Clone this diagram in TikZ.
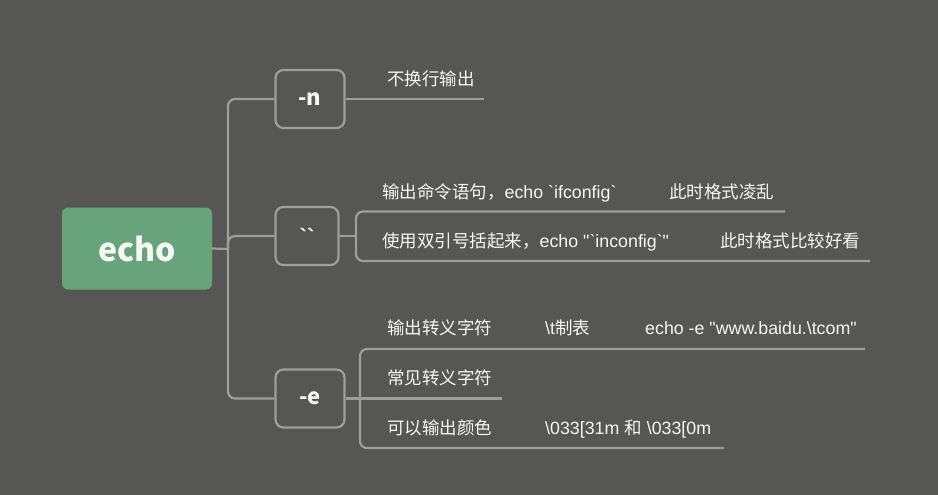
\documentclass[tikz,border=0pt]{standalone}
\usepackage{fontspec}
\newfontfamily\cjk{Noto Sans CJK SC}
\newfontfamily\lat{Liberation Sans}
\newcommand{\lt}[1]{{\lat\fontsize{17.8}{20}\selectfont #1}}
\definecolor{bgc}{RGB}{86,87,84}
\definecolor{rootc}{RGB}{103,164,124}
\definecolor{linec}{RGB}{158,159,156}
\definecolor{txtc}{RGB}{246,246,244}
\tikzset{
  conn/.style={draw=linec,line width=2.2pt,rounded corners=7pt},
  rootbox/.style={fill=rootc,rounded corners=6pt,minimum width=150pt,minimum height=82pt,inner sep=0pt,
    text=txtc,font=\cjk\fontsize{32}{36}\selectfont\bfseries},
  subbox/.style={draw=linec,line width=2.2pt,rounded corners=8pt,minimum height=58pt,inner sep=0pt,
    text=txtc,font=\cjk\fontsize{22}{26}\selectfont\bfseries},
  leaf/.style={anchor=base west,inner sep=0pt,text=txtc,font=\cjk\fontsize{17.5}{20}\selectfont},
}
\begin{document}
\begin{tikzpicture}[x=1pt,y=-1pt]
\fill[bgc] (0,0) rectangle (938,495);
\useasboundingbox (0,0) rectangle (938,495);
% nodes
\node[rootbox] (root) at (137,248.5) {echo};
\node[subbox,minimum width=69pt] (nbox) at (310,99) {-n};
\node[subbox,minimum width=63pt] (qbox) at (307,236) {\vphantom{-n}{\lat\bfseries\symbol{96}\symbol{96}}};
\node[subbox,minimum width=69pt] (ebox) at (310,398.5) {-e};
% coordinates
\coordinate (T) at (228,249);
\coordinate (n1end) at (484,99);
\coordinate (B1) at (356,236);
\coordinate (q1end) at (785,211.5);
\coordinate (q2end) at (870,261);
\coordinate (B2) at (360,398.5);
\coordinate (e1end) at (865,349);
\coordinate (e2end) at (502,398.5);
\coordinate (e3end) at (724,448);
% connectors
\draw[conn] (root.east) -- (T);
\draw[conn] (nbox.west) -| (T) |- (ebox.west);
\draw[conn] (T) |- (qbox.west);
\draw[conn] (nbox.east) -- (n1end);
\draw[conn] (qbox.east) -- (B1);
\draw[conn] (q1end) -| (B1) |- (q2end);
\draw[conn] (ebox.east) -- (B2);
\draw[conn] (e1end) -| (B2) |- (e3end);
\draw[conn] (B2) -- (e2end);
% leaf texts
\node[leaf] (tn1) at (387,85.5) {不换行输出};
\node[leaf] (tq1a) at (382,198.5) {输出命令语句，\lt{echo \symbol{96}ifconfig\symbol{96}}};
\node[leaf] (tq1b) at (669,198.5) {此时格式凌乱};
\node[leaf] (tq2a) at (382,247.5) {使用双引号括起来，\lt{echo \symbol{34}\symbol{96}inconfig\symbol{96}\symbol{34}}};
\node[leaf] (tq2b) at (720,247.5) {此时格式比较好看};
\node[leaf] (te1a) at (387,334.5) {输出转义字符};
\node[leaf] (te1b) at (545,334.5) {\lt{\symbol{92}t}制表};
\node[leaf] (te1c) at (645,334.5) {\lt{echo -e \symbol{34}www.baidu.\symbol{92}tcom\symbol{34}}};
\node[leaf] (te2a) at (387,384.5) {常见转义字符};
\node[leaf] (te3a) at (387,434.5) {可以输出颜色};
\node[leaf] (te3b) at (545,434.5) {\lt{\symbol{92}033[31m }和\lt{ \symbol{92}033[0m}};
\end{tikzpicture}
\end{document}
